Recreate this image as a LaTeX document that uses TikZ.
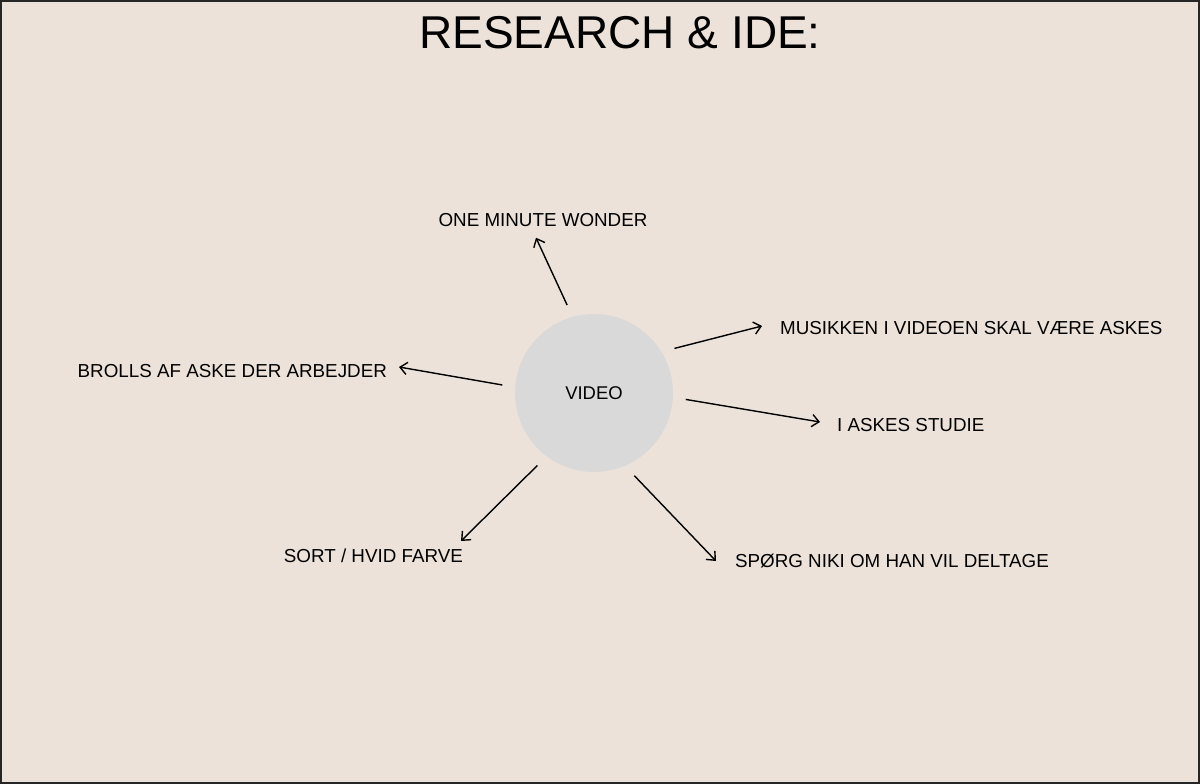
\documentclass[tikz,border=0pt]{standalone}
\usepackage{fontspec}
\setmainfont{Liberation Sans}
\usetikzlibrary{arrows.meta}

\definecolor{paper}{HTML}{ECE2DA}
\definecolor{bubble}{HTML}{D9D9D9}

\tikzset{
  idea/.style={font=\fontsize{10.7}{12}\selectfont, inner sep=1pt},
  link/.style={->, line width=0.8pt}
}

\begin{document}
\begin{tikzpicture}[x=0.02cm, y=-0.02cm, >={Straight Barb[length=4pt, width=7pt]}]
    \useasboundingbox (0,0) rectangle (1200,784);
    \fill[paper, draw=black!85, line width=1.2pt] (1,1) rectangle (1199,783);

    % title
    \node[font=\fontsize{26.2}{30}\selectfont, inner sep=0pt] (title) at (620,33) {RESEARCH \& IDE:};

    % centre
    \node[circle, fill=bubble, minimum size=3.16cm, inner sep=0pt, outer sep=0.26cm,
          font=\fontsize{10.5}{12}\selectfont] (video) at (594,393) {VIDEO};

    % ideas
    \node[idea] (wonder) at (543,220) {ONE MINUTE WONDER};
    \node[idea, anchor=west] (music) at (778,328) {MUSIKKEN I VIDEOEN SKAL VÆRE ASKES};
    \node[idea, anchor=west] (studio) at (835,425) {I ASKES STUDIE};
    \node[idea, anchor=west] (niki) at (733,561) {SPØRG NIKI OM HAN VIL DELTAGE};
    \node[idea, anchor=east] (colour) at (465,556) {SORT / HVID FARVE};
    \node[idea, anchor=east] (brolls) at (389,371) {BROLLS AF ASKE DER ARBEJDER};

    \draw[link] (video.107.7) -- ([shift={(-7,9)}]wonder.south);
    \draw[link] (video.29.4) -- ([shift={(-16,-2)}]music.west);
    \draw[link] (video.-4.5) -- ([shift={(-15,-3)}]studio.west);
    \draw[link] (video.-64.3) -- ([shift={(-17,0)}]niki.west);
    \draw[link] (video.-128) -- ([shift={(-4,-6)}]colour.north east);
    \draw[link] (video.175) -- ([shift={(10,-4)}]brolls.east);
\end{tikzpicture}
\end{document}
